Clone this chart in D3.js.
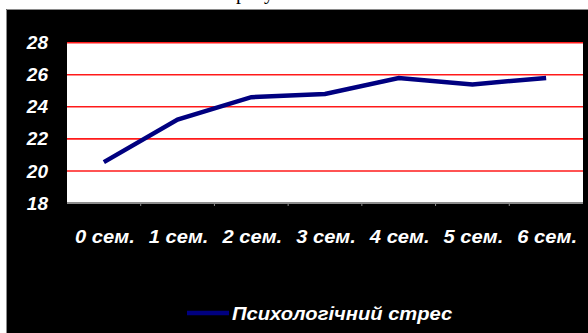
<!DOCTYPE html>
<html>
<head>
<meta charset="utf-8">
<script src="https://cdn.jsdelivr.net/npm/d3@7"></script>
<style>
  html, body { margin: 0; padding: 0; background: #fff; }
  svg { display: block; }
</style>
</head>
<body>
<svg id="chart" width="588" height="333"></svg>
<script>
// Semester labels along the x axis
const categories = ["0 сем.", "1 сем.", "2 сем.", "3 сем.", "4 сем.", "5 сем.", "6 сем."];
// Psychological stress level per semester
const stress = [20.55, 23.2, 24.6, 24.8, 25.8, 25.4, 25.8];
const yTicks = [18, 20, 22, 24, 26, 28];
const seriesName = "Психологічний стрес";
const titleText = "Рівень психологічного стресу";

const W = 588, H = 333;
const svg = d3.select("#chart");
const FONT = "Arial, 'Liberation Sans', sans-serif";

// Title sits above the dark panel
const title = svg.append("text")
  .attr("y", -1)
  .attr("font-family", "'Times New Roman', 'Liberation Serif', serif")
  .attr("font-size", 20)
  .attr("fill", "#000")
  .text(titleText);
const rIdx = titleText.lastIndexOf("р");
const rOff = title.node().getSubStringLength(0, rIdx);
title.attr("x", 236 - rOff);

// Dark chart panel
svg.append("rect")
  .attr("x", 6).attr("y", 9)
  .attr("width", W - 6).attr("height", H - 9)
  .attr("fill", "#000");
svg.append("path")
  .attr("d", `M6.5,${H}V9.5H${W}`)
  .attr("fill", "none")
  .attr("stroke", "#8a8a8a")
  .attr("stroke-width", 1);

const plot = { left: 67, right: 583, top: 42.7, bottom: 203 };

const x = d3.scaleBand().domain(categories).range([plot.left, plot.right]).padding(0);
const y = d3.scaleLinear().domain([18, 28]).range([plot.bottom, plot.top]);

// Plot area
svg.append("rect")
  .attr("x", plot.left).attr("y", plot.top)
  .attr("width", plot.right - plot.left).attr("height", plot.bottom - plot.top)
  .attr("fill", "#fff");

// Red gridlines
svg.append("g").selectAll("line")
  .data(yTicks.filter(t => t > 18))
  .join("line")
  .attr("x1", plot.left).attr("x2", plot.right)
  .attr("y1", d => y(d)).attr("y2", d => y(d))
  .attr("stroke", "#ff1a1a")
  .attr("stroke-width", 1.6);

// Y axis labels
const yAxis = d3.axisLeft(y).tickValues(yTicks).tickSize(0).tickPadding(19).tickFormat(d3.format("d"));
const gy = svg.append("g").attr("transform", `translate(${plot.left},0)`).call(yAxis);
gy.select(".domain").remove();
gy.selectAll("text")
  .attr("fill", "#fff")
  .attr("font-family", FONT)
  .attr("font-size", 19)
  .attr("font-weight", "bold")
  .attr("font-style", "italic");

// X axis: line with ticks at category boundaries
const gx = svg.append("g");
gx.append("line")
  .attr("x1", plot.left).attr("x2", plot.right)
  .attr("y1", plot.bottom).attr("y2", plot.bottom)
  .attr("stroke", "#8c8c8c").attr("stroke-width", 2);
gx.selectAll("line.tick")
  .data(categories.slice(1))
  .join("line")
  .attr("class", "tick")
  .attr("x1", d => x(d)).attr("x2", d => x(d))
  .attr("y1", plot.bottom).attr("y2", plot.bottom + 3)
  .attr("stroke", "#8c8c8c").attr("stroke-width", 1);

const xAxis = d3.axisBottom(x).tickSize(0).tickPadding(0);
const gxl = svg.append("g").attr("transform", `translate(0,${plot.bottom})`).call(xAxis);
gxl.select(".domain").remove();
gxl.selectAll("text")
  .attr("dy", null)
  .attr("y", 40)
  .attr("transform", "translate(1,0) scale(1.12,1)")
  .attr("fill", "#fff")
  .attr("font-family", FONT)
  .attr("font-size", 18)
  .attr("font-weight", "bold")
  .attr("font-style", "italic");

// Series line
const line = d3.line()
  .x((d, i) => x(categories[i]) + x.bandwidth() / 2)
  .y(d => y(d));
svg.append("path")
  .datum(stress)
  .attr("d", line)
  .attr("fill", "none")
  .attr("stroke", "#000080")
  .attr("stroke-width", 4.5)
  .attr("stroke-linejoin", "miter");

// Legend
const lg = svg.append("g");
lg.append("line")
  .attr("x1", 187).attr("x2", 229)
  .attr("y1", 313).attr("y2", 313)
  .attr("stroke", "#000080").attr("stroke-width", 4.5);
lg.append("text")
  .attr("transform", "translate(232,320) scale(1.12,1)")
  .attr("fill", "#fff")
  .attr("font-family", FONT)
  .attr("font-size", 18)
  .attr("font-weight", "bold")
  .attr("font-style", "italic")
  .text(seriesName);
</script>
</body>
</html>
